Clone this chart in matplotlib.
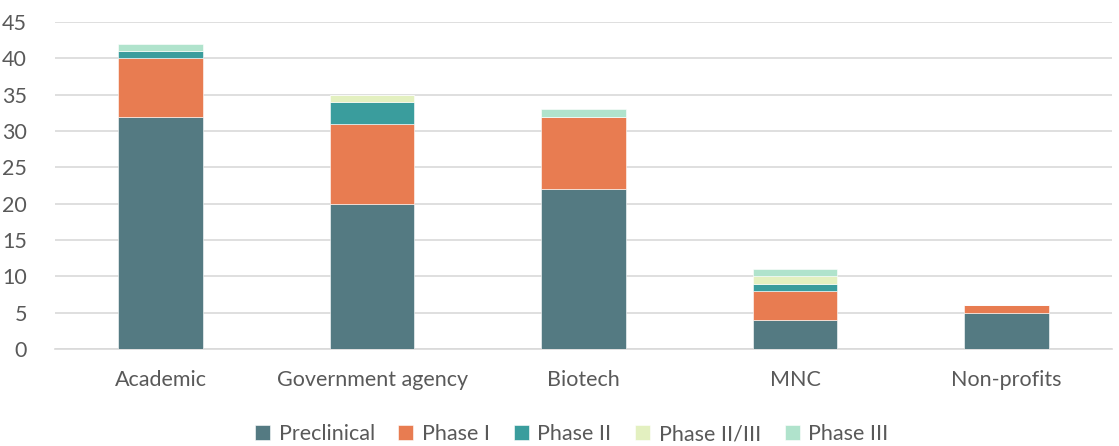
import matplotlib
matplotlib.use("Agg")
import matplotlib.pyplot as plt
import numpy as np

categories = ["Academic", "Government agency", "Biotech", "MNC", "Non-profits"]
series_names = ["Preclinical", "Phase I", "Phase II", "Phase II/III", "Phase III"]
preclinical = [32, 20, 22, 4, 5]
phase1 = [8, 11, 10, 4, 1]
phase2 = [1, 3, 0, 1, 0]
phase2_3 = [0, 1, 0, 1, 0]
phase3 = [1, 0, 1, 1, 0]
colors = ["#547A82", "#E87C51", "#3A9D9D", "#E3F0C0", "#B0E3CC"]

plt.rcParams['font.family'] = ['Lato', 'DejaVu Sans']
fig = plt.figure(figsize=(11.19, 4.46), dpi=100)
ax = fig.add_axes([0.049, 0.2175, 0.945, 0.733])

x = np.arange(len(categories))
bottom = np.zeros(len(categories))
for name, vals, c in zip(series_names, [preclinical, phase1, phase2, phase2_3, phase3], colors):
    ax.bar(x, vals, 0.4, bottom=bottom, color=c, label=name, edgecolor="white", linewidth=0.4, zorder=3)
    bottom += np.array(vals)

ax.set_xlim(-0.5, 4.5)
ax.set_ylim(0, 45)
ax.set_yticks(range(0, 46, 5))
ax.set_xticks(x)
ax.set_xticklabels(categories)
ax.yaxis.grid(True, color="#D9D9D9", linewidth=1.2, zorder=0)
for s in ["top", "right", "left"]:
    ax.spines[s].set_visible(False)
ax.spines["bottom"].set_color("#D9D9D9")
ax.spines["bottom"].set_linewidth(1.2)
ax.tick_params(axis="both", length=0, labelsize=15.5, colors="#595959")
ax.tick_params(axis="y", pad=20)
ax.tick_params(axis="x", pad=15)

leg = fig.legend(loc="lower center", bbox_to_anchor=(0.511, -0.04), ncol=5, frameon=False,
                 fontsize=15.5, handlelength=0.7, handleheight=0.7, columnspacing=1.1,
                 handletextpad=0.4, labelcolor="#595959")
fig.savefig("out.png", dpi=100)
